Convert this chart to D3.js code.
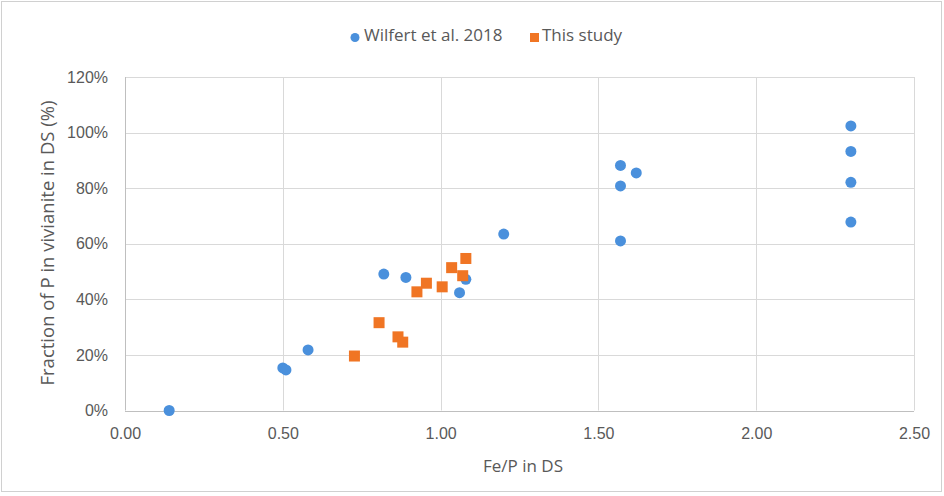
<!DOCTYPE html>
<html>
<head>
<meta charset="utf-8">
<script src="https://cdn.jsdelivr.net/npm/d3@7"></script>
<style>
  body { margin: 0; background: #fff; }
  svg { display: block; font-family: "Open Sans", "DejaVu Sans", sans-serif; }
</style>
</head>
<body>
<svg width="944" height="496"></svg>
<script>
// data
var wilfertX = [0.14, 0.50, 0.51, 0.58, 0.82, 0.89, 1.08, 1.06, 1.20, 1.57, 1.62, 1.57, 1.57, 2.30, 2.30, 2.30, 2.30];
var wilfertY = [0.0, 0.153, 0.146, 0.218, 0.491, 0.479, 0.472, 0.424, 0.635, 0.882, 0.855, 0.808, 0.61, 1.024, 0.932, 0.821, 0.678];
var studyX = [1.08, 1.035, 1.07, 1.005, 0.955, 0.925, 0.805, 0.865, 0.88, 0.727];
var studyY = [0.547, 0.514, 0.485, 0.445, 0.458, 0.427, 0.316, 0.265, 0.246, 0.196];
var xTicks = [0, 0.5, 1, 1.5, 2, 2.5];
var yTicks = [0, 0.2, 0.4, 0.6, 0.8, 1.0, 1.2];
var seriesNames = ["Wilfert et al. 2018", "This study"];

var svg = d3.select("svg");
var blue = "#4a90dc";
var orange = "#f07524";
var textColor = "#595959";

// outer frame
svg.append("rect")
  .attr("x", 1.5).attr("y", 1.5)
  .attr("width", 940).attr("height", 490)
  .attr("fill", "none")
  .attr("stroke", "#d0d0d0");

var x = d3.scaleLinear().domain([0, 2.5]).range([125, 914]);
var y = d3.scaleLinear().domain([0, 1.2]).range([410.5, 77]);

// gridlines
svg.append("g")
  .selectAll("line.h")
  .data(yTicks.slice(1))
  .enter()
  .append("line")
  .attr("x1", x(0)).attr("x2", x(2.5))
  .attr("y1", (d) => Math.round(y(d)) + 0.5)
  .attr("y2", (d) => Math.round(y(d)) + 0.5)
  .attr("stroke", "#d9d9d9");

svg.append("g")
  .selectAll("line.v")
  .data(xTicks.slice(1))
  .enter()
  .append("line")
  .attr("y1", y(0)).attr("y2", y(1.2))
  .attr("x1", (d) => Math.round(x(d)) + 0.5)
  .attr("x2", (d) => Math.round(x(d)) + 0.5)
  .attr("stroke", "#d9d9d9");

// axis lines
svg.append("line")
  .attr("x1", Math.round(x(0)) + 0.5).attr("x2", Math.round(x(0)) + 0.5)
  .attr("y1", y(0)).attr("y2", y(1.2))
  .attr("stroke", "#bfbfbf");
svg.append("line")
  .attr("x1", x(0)).attr("x2", x(2.5))
  .attr("y1", Math.round(y(0)) + 0.5).attr("y2", Math.round(y(0)) + 0.5)
  .attr("stroke", "#bfbfbf");

// tick labels
var yAxis = d3.axisLeft(y).tickValues(yTicks).tickFormat(d3.format(".0%")).tickSize(0).tickPadding(17);
var gy = svg.append("g").attr("transform", "translate(" + x(0) + ",0)").call(yAxis);
gy.select(".domain").remove();
gy.selectAll("text").attr("fill", textColor).style("font-size", "16px");

var xAxis = d3.axisBottom(x).tickValues(xTicks).tickFormat(d3.format(".2f")).tickSize(0).tickPadding(17);
var gx = svg.append("g").attr("transform", "translate(0," + y(0) + ")").call(xAxis);
gx.select(".domain").remove();
gx.selectAll("text").attr("fill", textColor).style("font-size", "16px");

// axis titles
svg.append("text")
  .attr("x", 523).attr("y", 472)
  .attr("text-anchor", "middle")
  .attr("fill", textColor)
  .style("font-size", "17px")
  .text("Fe/P in DS");

svg.append("text")
  .attr("transform", "translate(54,243) rotate(-90)")
  .attr("text-anchor", "middle")
  .attr("fill", textColor)
  .style("font-size", "18.5px")
  .text("Fraction of P in vivianite in DS (%)");

// points
var wilfert = wilfertX.map((d, i) => ({ x: d, y: wilfertY[i] }));
var study = studyX.map((d, i) => ({ x: d, y: studyY[i] }));

svg.append("g")
  .selectAll("circle")
  .data(wilfert)
  .enter()
  .append("circle")
  .attr("cx", (d) => x(d.x))
  .attr("cy", (d) => y(d.y))
  .attr("r", 5.5)
  .attr("fill", blue);

svg.append("g")
  .selectAll("rect")
  .data(study)
  .enter()
  .append("rect")
  .attr("x", (d) => x(d.x) - 5.5)
  .attr("y", (d) => y(d.y) - 5.5)
  .attr("width", 11)
  .attr("height", 11)
  .attr("fill", orange);

// legend
var legend = svg.append("g");
legend.append("circle").attr("cx", 355).attr("cy", 37.5).attr("r", 4.5).attr("fill", blue);
legend.append("text").attr("x", 364).attr("y", 41).attr("fill", textColor)
  .style("font-size", "17px").text(seriesNames[0]);
legend.append("rect").attr("x", 530).attr("y", 33).attr("width", 9).attr("height", 9).attr("fill", orange);
legend.append("text").attr("x", 542).attr("y", 41).attr("fill", textColor)
  .style("font-size", "17px").text(seriesNames[1]);
</script>
</body>
</html>
